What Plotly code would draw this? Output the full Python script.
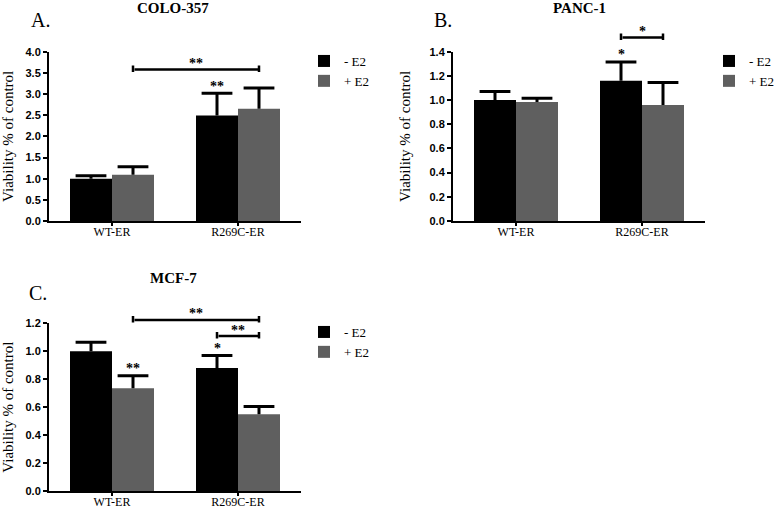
import plotly.graph_objects as go

# ---------------- data ----------------
groups = ["WT-ER", "R269C-ER"]
series_names = ["- E2", "+ E2"]
series_colors = ["#000000", "#5f5f5f"]

colo_minus = [1.00, 2.49]
colo_plus = [1.09, 2.65]
colo_minus_err = [0.07, 0.53]
colo_plus_err = [0.19, 0.49]

panc_minus = [1.00, 1.16]
panc_plus = [0.985, 0.96]
panc_minus_err = [0.07, 0.155]
panc_plus_err = [0.03, 0.185]

mcf_minus = [1.00, 0.88]
mcf_plus = [0.735, 0.55]
mcf_minus_err = [0.065, 0.09]
mcf_plus_err = [0.09, 0.055]

# stars above single bars: (group index, series index, label)
colo_bar_stars = [(1, 0, "**")]
panc_bar_stars = [(1, 0, "*")]
mcf_bar_stars = [(0, 1, "**"), (1, 0, "*")]

# brackets: ((group, series), (group, series), y, label)
colo_brackets = [((0, 1), (1, 1), 3.58, "**")]
panc_brackets = [((1, 0), (1, 1), 1.517, "*")]
mcf_brackets = [((0, 1), (1, 1), 1.224, "**"), ((1, 0), (1, 1), 1.109, "**")]

panel_titles = ["COLO-357", "PANC-1", "MCF-7"]
panel_letters = ["A.", "B.", "C."]
y_title = "Viability % of control"

# ---------------- layout constants ----------------
W, H = 778, 507
BARGAP = 1 / 3
SERIF = "Liberation Serif, Times New Roman, serif"
SANS = "Liberation Sans, Arial, sans-serif"


def px_x(p):
    return p / W


def px_y(p):
    return 1 - p / H


panels = [
    dict(vals=[colo_minus, colo_plus], errs=[colo_minus_err, colo_plus_err],
         stars=colo_bar_stars, brackets=colo_brackets, ymax=4.0, dtick=0.5,
         xd=(49, 301), yd=(51.7, 221), legend="legend", leg=(304, 46),
         title=(173, 8), letter=(40, 20)),
    dict(vals=[panc_minus, panc_plus], errs=[panc_minus_err, panc_plus_err],
         stars=panc_bar_stars, brackets=panc_brackets, ymax=1.4, dtick=0.2,
         xd=(453, 705), yd=(51.7, 221), legend="legend2", leg=(709, 46),
         title=(579, 8), letter=(443, 20)),
    dict(vals=[mcf_minus, mcf_plus], errs=[mcf_minus_err, mcf_plus_err],
         stars=mcf_bar_stars, brackets=mcf_brackets, ymax=1.2, dtick=0.2,
         xd=(49, 301), yd=(323.3, 491), legend="legend3", leg=(304, 317),
         title=(173, 278), letter=(38, 293)),
]

fig = go.Figure()
annotations = []
half = (1 - BARGAP) / 2  # width of one bar in category units


def xpos(g, s):
    return g + (s - 0.5) * half


for i, p in enumerate(panels):
    k = "" if i == 0 else str(i + 1)
    xa, ya = "x" + k, "y" + k
    y0, y1 = px_y(p["yd"][1]), px_y(p["yd"][0])

    def to_paper(v, y0=y0, y1=y1, ymax=p["ymax"]):
        return y0 + (y1 - y0) * v / ymax

    for s in range(2):
        vals = p["vals"][s]
        errs = p["errs"][s]
        fig.add_trace(go.Bar(
            x=groups, y=vals, name=series_names[s], xaxis=xa, yaxis=ya,
            marker=dict(color=series_colors[s], line=dict(width=0)),
            offsetgroup=str(s), alignmentgroup="p" + str(i),
            legend=p["legend"], showlegend=True,
            error_y=dict(type="data", array=errs, arrayminus=[0] * len(errs),
                         symmetric=False, width=0, thickness=3, color="black"),
            hoverinfo="skip",
        ))
        fig.add_trace(go.Scatter(
            x=groups, y=[v + e for v, e in zip(vals, errs)], mode="markers",
            xaxis=xa, yaxis=ya, offsetgroup=str(s), alignmentgroup="p" + str(i),
            marker=dict(symbol="line-ew", size=22, color="black",
                        line=dict(width=3, color="black")),
            showlegend=False, hoverinfo="skip", legend=p["legend"],
        ))
    # stars above bars
    for g, s, lab in p["stars"]:
        annotations.append(dict(
            x=xpos(g, s), y=to_paper(p["vals"][s][g] + p["errs"][s][g]),
            xref=xa, yref="paper",
            text=lab, showarrow=False, yanchor="middle", yshift=7,
            font=dict(family=SERIF, size=14, color="black", weight="bold")))
    # brackets
    for (g1, s1), (g2, s2), yb, lab in p["brackets"]:
        x1, x2 = xpos(g1, s1), xpos(g2, s2)
        yp = to_paper(yb)
        annotations.append(dict(
            x=x2, y=yp, ax=x1, ay=0, xref=xa, yref="paper", axref=xa, ayref="pixel",
            text="", showarrow=True, arrowhead=0, arrowwidth=2.5,
            arrowcolor="black", standoff=0, startstandoff=0))
        for xe in (x1, x2):
            annotations.append(dict(
                x=xe, y=yp, xref=xa, yref="paper", ax=0, ay=8, yshift=4,
                text="", showarrow=True, arrowhead=0, arrowwidth=2.5,
                arrowcolor="black", standoff=0, startstandoff=0))
        annotations.append(dict(
            x=(x1 + x2) / 2, y=yp, xref=xa, yref="paper", text=lab, showarrow=False,
            yanchor="middle", yshift=6,
            font=dict(family=SERIF, size=14, color="black", weight="bold")))
    # titles
    annotations.append(dict(
        x=px_x(p["title"][0]), y=px_y(p["title"][1]), xref="paper", yref="paper",
        text=panel_titles[i], showarrow=False, xanchor="center", yanchor="middle",
        font=dict(family=SERIF, size=15, color="black", weight="bold")))
    annotations.append(dict(
        x=px_x(p["letter"][0]), y=px_y(p["letter"][1]), xref="paper", yref="paper",
        text=panel_letters[i], showarrow=False, xanchor="center", yanchor="middle",
        font=dict(family=SERIF, size=20, color="black")))

    axis_common = dict(showline=True, linewidth=2, linecolor="black", showgrid=False,
                       zeroline=False, ticks="outside", tickwidth=1.5,
                       tickcolor="black", automargin=False)
    fig.update_layout(**{
        "xaxis" + k: dict(axis_common, type="category", range=[-0.5, 1.5], ticklen=3,
                          ticklabelstandoff=-4,
                          domain=[px_x(p["xd"][0]), px_x(p["xd"][1])],
                          anchor=ya, tickfont=dict(family=SERIF, size=12, color="black")),
        "yaxis" + k: dict(axis_common, range=[0, p["ymax"]], dtick=p["dtick"],
                          tickformat=".1f", anchor=xa, ticklen=4,
                          domain=[y0, y1],
                          tickfont=dict(family=SANS, size=11, color="black", weight="bold"),
                          title=dict(text=y_title,
                                     font=dict(family=SERIF, size=15, color="black"))),
        p["legend"]: dict(x=px_x(p["leg"][0]), y=px_y(p["leg"][1]), xanchor="left",
                          yanchor="top", bgcolor="rgba(0,0,0,0)", itemwidth=30,
                          tracegroupgap=0,
                          font=dict(family=SERIF, size=13, color="black")),
    })

fig.update_layout(
    width=W, height=H, margin=dict(l=0, r=0, t=0, b=0, autoexpand=False),
    paper_bgcolor="white", plot_bgcolor="white",
    barmode="group", bargap=BARGAP, bargroupgap=0,
    scattermode="group", scattergap=BARGAP,
    annotations=annotations, showlegend=True,
)

fig.write_html("out.html", config={"displayModeBar": False},
               post_script="document.body.style.margin='0px';")
